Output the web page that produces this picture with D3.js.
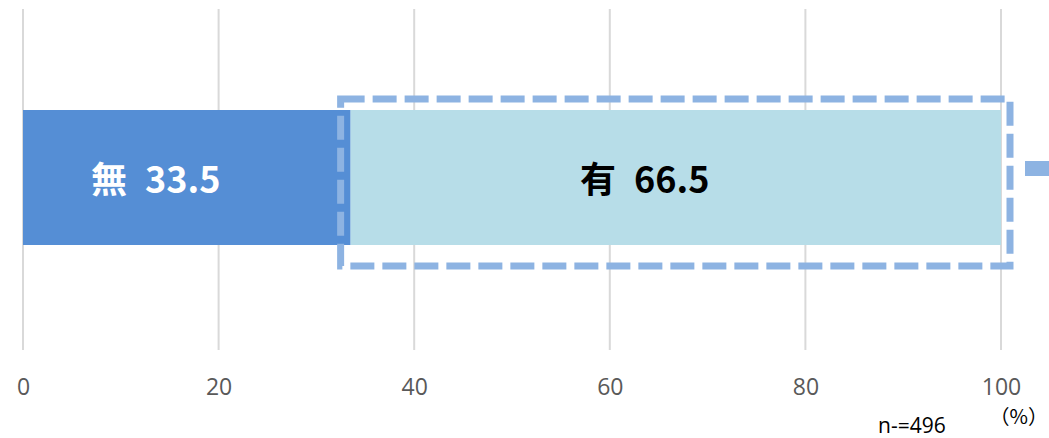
<!DOCTYPE html>
<html><head><meta charset="utf-8">
<script src="https://cdn.jsdelivr.net/npm/d3@7"></script>
<style>body{margin:0;background:#fff}svg{display:block}</style>
</head><body>
<script>
const categories = ["無", "有"];
const values = [33.5, 66.5];
const ticks = [0, 20, 40, 60, 80, 100];
const colors = ["#558ed5", "#b7dde8"];
const labelColors = ["#ffffff", "#000000"];

const W = 1049, H = 438;
const svg = d3.select("body").append("svg").attr("width", W).attr("height", H);
const x = d3.scaleLinear().domain([0, 100]).range([23, 1001]);

// gridlines
svg.append("g").selectAll("line").data(ticks).join("line")
  .attr("x1", d => x(d)).attr("x2", d => x(d))
  .attr("y1", 9).attr("y2", 350)
  .attr("stroke", "#d9d9d9").attr("stroke-width", 2);

// axis labels
const ax = svg.append("g").attr("transform", "translate(0,388)")
  .call(d3.axisBottom(x).tickValues(ticks).tickSize(0).tickPadding(0));
ax.select(".domain").remove();
ax.selectAll("text").attr("fill", "#595959").attr("font-size", 23)
  .attr("font-family", "'Open Sans', 'Noto Sans', sans-serif").attr("dy", "0.32em").attr("y", 0);

// stacked bars
let acc = 0;
const stacks = values.map((v, i) => { const s = { cat: categories[i], v, x0: acc, x1: acc + v, i }; acc += v; return s; });
const barTop = 110, barBot = 245;
svg.append("g").selectAll("rect").data(stacks).join("rect")
  .attr("x", d => x(d.x0)).attr("width", d => x(d.x1) - x(d.x0))
  .attr("y", barTop).attr("height", barBot - barTop)
  .attr("fill", d => colors[d.i]);

// labels
svg.append("g").selectAll("text").data(stacks).join("text")
  .attr("x", d => (x(d.x0) + x(d.x1)) / 2 - 31)
  .attr("y", (barTop + barBot) / 2 + 3).attr("dy", "0.36em")
  .attr("text-anchor", "middle")
  .attr("font-family", "'Noto Sans CJK JP', sans-serif").attr("font-weight", "bold")
  .attr("font-size", 36).attr("fill", d => labelColors[d.i])
  .text(d => d.cat + "\u2002" + d.v.toFixed(1));

// dashed highlight box around 有
const hl = stacks[1];
svg.append("rect")
  .attr("x", x(hl.x0) - 10).attr("y", 99)
  .attr("width", x(hl.x1) - x(hl.x0) + 19).attr("height", 167)
  .attr("fill", "none").attr("stroke", "#8db3e2").attr("stroke-width", 7)
  .attr("stroke-dasharray", "24,8");

// arrow fragment at right edge
svg.append("rect").attr("x", x(100) + 24).attr("y", 161).attr("width", 30).attr("height", 15)
  .attr("fill", "#8db3e2");

// unit and n
svg.append("text").attr("x", 1048).attr("y", 424).attr("font-size", 20)
  .attr("text-anchor", "end")
  .attr("font-family", "'Noto Sans CJK JP', sans-serif").attr("fill", "#000")
  .text("（%）");
svg.append("text").attr("x", 878).attr("y", 433).attr("font-size", 21)
  .attr("font-family", "'Open Sans', 'Noto Sans', sans-serif").attr("fill", "#000")
  .text("n-=496");
</script>
</body></html>
